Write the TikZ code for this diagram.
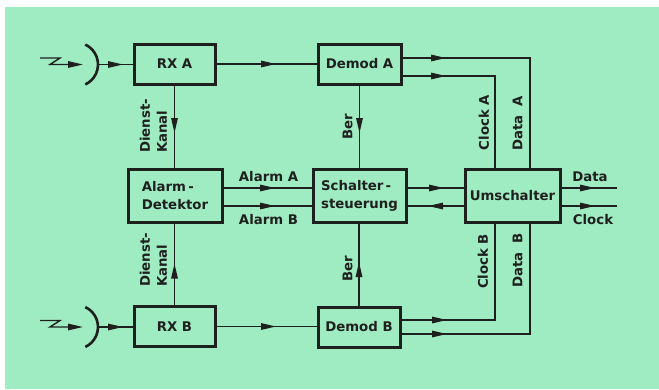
\documentclass[tikz,border=0pt]{standalone}
\usepackage{fontspec}
\setmainfont{DejaVu Sans}
\usetikzlibrary{arrows.meta,decorations.markings}
\definecolor{bg}{RGB}{160,236,194}
\definecolor{ink}{RGB}{30,32,30}
\begin{document}
\begin{tikzpicture}[x=1pt,y=-1pt,
  >={Triangle[length=15pt,width=6.5pt]},
  box/.style={draw=ink, line width=3pt, inner sep=0pt, outer sep=0pt,
    font=\bfseries\fontsize{13.3}{18}\selectfont, text=ink, align=center},
  lbl/.style={inner sep=0pt, outer sep=0pt, text=ink,
    font=\bfseries\fontsize{13.3}{17}\selectfont},
  wire/.style={draw=ink, line width=1.4pt},
  dish/.style={draw=ink, line width=2.6pt},
  midarrow/.style={postaction={decorate},
    decoration={markings, mark=at position #1 with {\arrow{>}}}},
]
\useasboundingbox (0,0) rectangle (659,389);
\fill[white] (0,0) rectangle (659,389);
\fill[bg] (5,7) rectangle (659,389);

% boxes
\node[box, minimum width=81pt, minimum height=40pt] (rxa) at (174.5,64) {RX A};
\node[box, minimum width=83pt, minimum height=40pt] (dema) at (359.5,64) {Demod A};
\node[box, minimum width=94pt, minimum height=53pt, align=left] (alarm) at (175,195.5) {Alarm\,-\\Detektor};
\node[box, minimum width=93pt, minimum height=53pt, align=left] (schalt) at (359.5,195.5) {Schalter\,-\\steuerung};
\node[box, minimum width=95pt, minimum height=53pt] (umsch) at (512.5,195.5) {Umschalter};
\node[box, minimum width=81pt, minimum height=40pt] (rxb) at (174.5,326.5) {RX B};
\node[box, minimum width=82pt, minimum height=40pt] (demb) at (359,327) {Demod B};

% antenna A
\coordinate (za1) at (40,58);
\coordinate (za2) at (60,58);
\coordinate (za3) at (50,64.5);
\coordinate (za4) at (83,64.5);
\draw[wire, ->] (za1) -- (za2) -- (za3) -- (za4);
\coordinate (dca) at (76,64.5);
\draw[dish] (dca) ++(65:22pt) arc[start angle=65, end angle=-65, radius=22pt];
\coordinate (dra) at (98,64.5);
\draw[wire, midarrow=25pt] (dra) -- (dra -| rxa.west);

% antenna B
\coordinate (zb1) at (40,320.5);
\coordinate (zb2) at (60,320.5);
\coordinate (zb3) at (50,327);
\coordinate (zb4) at (83,327);
\draw[wire, ->] (zb1) -- (zb2) -- (zb3) -- (zb4);
\coordinate (dcb) at (76,327);
\draw[dish] (dcb) ++(65:22pt) arc[start angle=65, end angle=-65, radius=22pt];
\coordinate (drb) at (98,327);
\draw[wire, midarrow=25pt] (drb) -- (drb -| rxb.west);

% top row
\draw[wire, midarrow=61pt] (rxa.east) -- (rxa.east -| dema.west);
\draw[wire, midarrow=45pt] ([yshift=6pt]dema.east) -| ([xshift=17.5pt]umsch.north);
\draw[wire, midarrow=45pt] ([yshift=-12pt]dema.east) -| ([xshift=-17.5pt]umsch.north);
\draw[wire, midarrow=49pt] (rxa.south) -- (rxa.south |- alarm.north);
\draw[wire, midarrow=49pt] (dema.south) -- (dema.south |- schalt.north);

% middle row
\draw[wire, midarrow=53pt] ([yshift=7.5pt]alarm.east) -- ([yshift=7.5pt]alarm.east -| schalt.west);
\draw[wire, midarrow=53pt] ([yshift=-10.5pt]alarm.east) -- ([yshift=-10.5pt]alarm.east -| schalt.west);
\draw[wire, midarrow=38pt] ([yshift=7.5pt]schalt.east) -- ([yshift=7.5pt]schalt.east -| umsch.west);
\draw[wire, midarrow=37pt] ([yshift=-10.5pt]umsch.west) -- ([yshift=-10.5pt]umsch.west -| schalt.east);
\coordinate (dout) at (617,188);
\coordinate (cout) at (617,206);
\draw[wire, midarrow=35pt] ([yshift=7.5pt]umsch.east) -- (dout);
\draw[wire, midarrow=35pt] ([yshift=-10.5pt]umsch.east) -- (cout);

% bottom row
\draw[wire, midarrow=61pt] (rxb.east) -- (rxb.east -| demb.west);
\draw[wire, midarrow=47pt] ([yshift=7pt]demb.east) -| ([xshift=-17.5pt]umsch.south);
\draw[wire, midarrow=47pt] ([yshift=-7pt]demb.east) -| ([xshift=17.5pt]umsch.south);
\draw[wire, midarrow=43pt] (rxb.north) -- (rxb.north |- alarm.south);
\draw[wire, midarrow=45pt] (demb.north) -- (demb.north |- schalt.south);

% labels
\node[lbl, rotate=90, align=left] (dka) at (153.5,126) {Dienst-\\Kanal};
\node[lbl, rotate=90, align=left] (dkb) at (153.5,260) {Dienst-\\Kanal};
\node[lbl, rotate=90] (bera) at (347.5,126.5) {Ber};
\node[lbl, rotate=90] (berb) at (347.5,269) {Ber};
\node[lbl, rotate=90] (cla) at (484,122.5) {Clock A};
\node[lbl, rotate=90] (dta) at (517.5,123.5) {Data\ \ A};
\node[lbl, rotate=90] (clb) at (483,261.5) {Clock B};
\node[lbl, rotate=90] (dtb) at (517.5,260.5) {Data\ \ B};
\node[lbl] (ala) at (268.5,176.5) {Alarm A};
\node[lbl] (alb) at (268.5,219.5) {Alarm B};
\node[lbl] (dlab) at (590,176.5) {Data};
\node[lbl] (clab) at (593,220) {Clock};
\end{tikzpicture}
\end{document}
